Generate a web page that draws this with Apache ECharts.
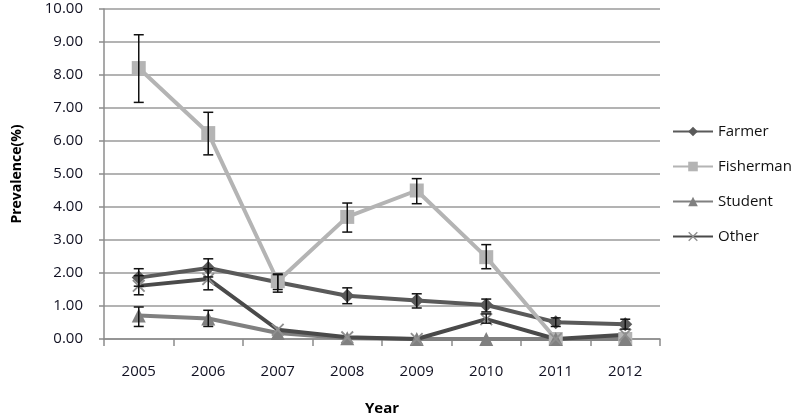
<!DOCTYPE html>
<html>
<head>
<meta charset="utf-8">
<script src="https://cdn.jsdelivr.net/npm/echarts@6/dist/echarts.min.js"></script>
<style>
  html, body { margin: 0; padding: 0; background: #fff; }
  #chart { width: 797px; height: 419px; }
</style>
</head>
<body>
<div id="chart"></div>
<script>
const years = ['2005', '2006', '2007', '2008', '2009', '2010', '2011', '2012']

const farmer = [1.86, 2.15, 1.72, 1.31, 1.17, 1.03, 0.51, 0.45]
const farmerLow = [1.6, 1.88, 1.5, 1.07, 0.94, 0.82, 0.38, 0.3]
const farmerHigh = [2.13, 2.43, 1.95, 1.55, 1.37, 1.21, 0.64, 0.6]

const fisherman = [8.21, 6.24, 1.75, 3.7, 4.5, 2.48, 0, 0]
const fishermanLow = [7.17, 5.58, 1.42, 3.24, 4.1, 2.13, null, null]
const fishermanHigh = [9.22, 6.87, 1.97, 4.12, 4.86, 2.86, null, null]

const student = [0.71, 0.62, 0.18, 0.02, 0, 0, 0, 0]
const studentLow = [0.38, 0.38, null, null, null, null, null, null]
const studentHigh = [0.97, 0.87, null, null, null, null, null, null]

const other = [1.61, 1.82, 0.28, 0.05, 0, 0.6, 0, 0.13]
const otherLow = [1.34, 1.49, null, null, null, 0.48, null, null]
const otherHigh = [1.92, 2.13, null, null, null, 0.76, null, null]

const xSymbol = 'path://M1,0L5,4L9,0L10,1L6,5L10,9L9,10L5,6L1,10L0,9L4,5L0,1Z'

function errData(low, high) {
  const out = []
  low.forEach((l, i) => {
    if (l != null && high[i] != null) out.push([i, l, high[i]])
  })
  return out
}

function renderErr(params, api) {
  const top = api.coord([api.value(0), api.value(2)])
  const bot = api.coord([api.value(0), api.value(1)])
  const half = 5
  const style = { stroke: '#111', lineWidth: 1.5 }
  return {
    type: 'group',
    children: [
      { type: 'line', shape: { x1: top[0], y1: top[1], x2: bot[0], y2: bot[1] }, style },
      { type: 'line', shape: { x1: top[0] - half, y1: top[1], x2: top[0] + half, y2: top[1] }, style },
      { type: 'line', shape: { x1: bot[0] - half, y1: bot[1], x2: bot[0] + half, y2: bot[1] }, style }
    ]
  }
}

const chart = echarts.init(document.getElementById('chart'))
const font = '"Open Sans", "Liberation Sans", sans-serif'

const lineSeries = (name, data, color, symbol, size, markerColor) => ({
  name,
  type: 'line',
  data,
  symbol,
  symbolSize: size,
  lineStyle: { color, width: 4 },
  itemStyle: { color: markerColor || color },
  z: 3
})

const errSeries = (low, high) => ({
  type: 'custom',
  renderItem: renderErr,
  data: errData(low, high),
  encode: { x: 0, y: [1, 2] },
  z: 5,
  silent: true
})

chart.setOption({
  animation: false,
  textStyle: { fontFamily: font },
  grid: { left: 104, right: 137, top: 9, bottom: 80, outerBoundsMode: 'none' },
  legend: {
    data: ['Farmer', 'Fisherman', 'Student', 'Other'],
    orient: 'vertical',
    left: 667,
    top: 119,
    itemWidth: 40,
    itemHeight: 12,
    itemGap: 20,
    textStyle: { fontSize: 15, color: '#111', fontFamily: font }
  },
  xAxis: {
    type: 'category',
    data: years,
    boundaryGap: true,
    name: 'Year',
    nameLocation: 'middle',
    nameGap: 62,
    nameTextStyle: { fontSize: 15, fontWeight: 'bold', color: '#000' },
    axisLine: { lineStyle: { color: '#8c8c8c', width: 1.5 } },
    axisTick: { show: true, length: 7, lineStyle: { color: '#8c8c8c', width: 1.5 } },
    axisLabel: { fontSize: 15, color: '#111122', margin: 25 }
  },
  yAxis: {
    type: 'value',
    min: 0,
    max: 10,
    interval: 1,
    name: 'Prevalence(%)',
    nameLocation: 'middle',
    nameGap: 80,
    nameTextStyle: { fontSize: 14, fontWeight: 'bold', color: '#000' },
    axisLine: { show: true, lineStyle: { color: '#8c8c8c', width: 1.5 } },
    axisTick: { show: true, length: 5, lineStyle: { color: '#8c8c8c', width: 1.5 } },
    axisLabel: { fontSize: 15, color: '#111122', margin: 21, formatter: v => v.toFixed(2) },
    splitLine: { lineStyle: { color: '#9a9a9a', width: 1.5 } }
  },
  series: [
    lineSeries('Farmer', farmer, '#5a5a5a', 'diamond', 14),
    lineSeries('Fisherman', fisherman, '#b4b4b4', 'rect', 14),
    lineSeries('Student', student, '#808080', 'triangle', 14),
    lineSeries('Other', other, '#4a4a4a', xSymbol, 13, '#8f8f8f'),
    errSeries(farmerLow, farmerHigh),
    errSeries(fishermanLow, fishermanHigh),
    errSeries(studentLow, studentHigh),
    errSeries(otherLow, otherHigh)
  ]
})
</script>
</body>
</html>
